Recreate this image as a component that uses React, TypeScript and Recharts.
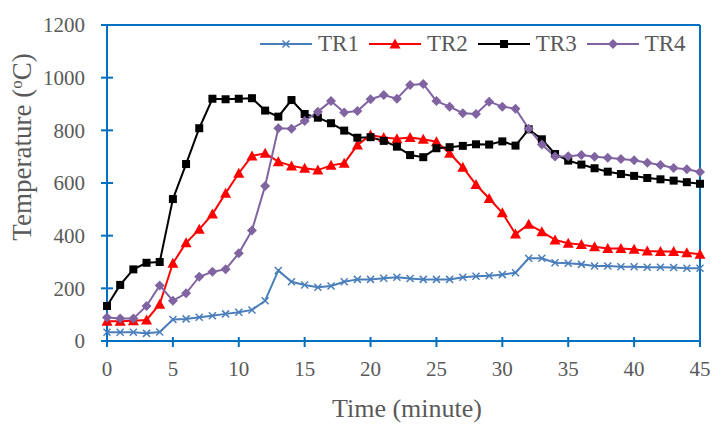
import { LineChart, Line, XAxis, YAxis, ReferenceLine, Legend } from 'recharts';

const AXIS_BLUE = '#0070C0';
const TEXT_GREY = '#595959';
const FONT = '"Liberation Serif", "Times New Roman", serif';

// time in minutes
const minutes = [
  0, 1, 2, 3, 4, 5, 6, 7, 8, 9, 10, 11, 12, 13, 14, 15, 16, 17, 18, 19, 20, 21, 22,
  23, 24, 25, 26, 27, 28, 29, 30, 31, 32, 33, 34, 35, 36, 37, 38, 39, 40, 41, 42, 43, 44, 45,
];

const tr1 = [
  33, 33, 33, 29, 34, 82, 84, 90, 96, 103, 109, 118, 153, 268, 225, 213, 204, 209, 225, 234, 234, 238, 242,
  237, 234, 234, 234, 242, 246, 248, 252, 259, 314, 314, 297, 295, 291, 285, 285, 282, 282, 280, 280, 279, 276, 276,
];
const tr2 = [
  75, 75, 77, 80, 140, 295, 373, 424, 482, 561, 637, 703, 713, 681, 665, 656, 649, 667, 675, 744, 782, 773, 768,
  773, 766, 757, 713, 660, 594, 541, 487, 406, 443, 415, 384, 371, 366, 358, 351, 351, 348, 342, 340, 340, 335, 329,
];
const tr3 = [
  133, 213, 272, 297, 300, 539, 672, 808, 920, 918, 920, 922, 875, 852, 915, 862, 848, 827, 799, 772, 774, 760, 738,
  706, 698, 732, 736, 741, 747, 746, 758, 742, 804, 766, 710, 685, 670, 656, 643, 634, 627, 619, 614, 609, 603, 597,
];
const tr4 = [
  89, 85, 85, 133, 211, 153, 181, 244, 263, 272, 333, 420, 589, 808, 806, 835, 871, 911, 868, 873, 918, 934, 920,
  972, 976, 911, 890, 865, 862, 909, 890, 882, 806, 746, 701, 702, 706, 700, 696, 691, 686, 677, 668, 657, 652, 642,
];

const xTicks = [0, 5, 10, 15, 20, 25, 30, 35, 40, 45];
const yTicks = [0, 200, 400, 600, 800, 1000, 1200];

const seriesStyle: Record<string, { color: string; shape: string }> = {
  TR1: { color: '#4A7EBB', shape: 'cross' },
  TR2: { color: '#FF0000', shape: 'triangle' },
  TR3: { color: '#000000', shape: 'square' },
  TR4: { color: '#8064A2', shape: 'diamond' },
};

const data = minutes.map((t, i) => ({
  t,
  TR1: tr1[i],
  TR2: tr2[i],
  TR3: tr3[i],
  TR4: tr4[i],
}));

const Marker = ({ shape, cx, cy, color }: any) => {
  if (cx == null || cy == null) return null;
  if (shape === 'cross') {
    const s = 3.5;
    return (
      <g stroke={color} strokeWidth={1.5}>
        <line x1={cx - s} y1={cy - s} x2={cx + s} y2={cy + s} />
        <line x1={cx - s} y1={cy + s} x2={cx + s} y2={cy - s} />
      </g>
    );
  }
  if (shape === 'triangle') {
    return <path d={`M${cx},${cy - 5.5} L${cx + 5.5},${cy + 4.5} L${cx - 5.5},${cy + 4.5} Z`} fill={color} />;
  }
  if (shape === 'square') {
    return <rect x={cx - 4} y={cy - 4} width={8} height={8} fill={color} />;
  }
  return <path d={`M${cx},${cy - 5} L${cx + 5},${cy} L${cx},${cy + 5} L${cx - 5},${cy} Z`} fill={color} />;
};

const XTick = (props: any) => {
  const { x, y, payload } = props;
  return (
    <g>
      <line x1={x} y1={y - 4} x2={x} y2={y + 6} stroke={AXIS_BLUE} strokeWidth={2} />
      <text x={x} y={y + 28} dy="0.35em" textAnchor="middle" fill={TEXT_GREY} fontSize={21} fontFamily={FONT}>
        {payload.value}
      </text>
    </g>
  );
};

const YTick = (props: any) => {
  const { x, y, payload } = props;
  return (
    <g>
      <line x1={x - 6} y1={y} x2={x + 6} y2={y} stroke={AXIS_BLUE} strokeWidth={2} />
      <text x={x - 22} y={y} dy="0.35em" textAnchor="end" fill={TEXT_GREY} fontSize={21} fontFamily={FONT}>
        {payload.value}
      </text>
    </g>
  );
};

const renderLegend = (props: any) => (
  <div style={{ display: 'flex', alignItems: 'center', fontFamily: FONT, fontSize: 23, color: TEXT_GREY, lineHeight: '24px' }}>
    {(props.payload || []).map((entry: any) => {
      const st = seriesStyle[entry.value];
      return (
        <div key={entry.value} style={{ display: 'flex', alignItems: 'center', marginRight: 10 }}>
          <svg width={52} height={24}>
            <line x1={0} y1={12} x2={52} y2={12} stroke={st.color} strokeWidth={2} />
            <Marker shape={st.shape} cx={26} cy={12} color={st.color} />
          </svg>
          <span style={{ marginLeft: 6 }}>{entry.value}</span>
        </div>
      );
    })}
  </div>
);

export default function App() {
  return (
    <div style={{ position: 'absolute', left: 0, top: 0, width: 713, height: 424, background: '#fff' }}>
      <LineChart width={713} height={424} data={data} margin={{ top: 25, right: 13, left: 0, bottom: 0 }}>
        <XAxis
          dataKey="t"
          type="number"
          domain={[0, 45]}
          ticks={xTicks}
          height={83}
          tickSize={0}
          tickMargin={0}
          tick={<XTick />}
          axisLine={{ stroke: AXIS_BLUE, strokeWidth: 2 }}
          label={{
            content: () => (
              <text x={407} y={417} textAnchor="middle" fill={TEXT_GREY} fontSize={26} fontFamily={FONT}>
                Time (minute)
              </text>
            ),
          }}
        />
        <YAxis
          type="number"
          domain={[0, 1200]}
          ticks={yTicks}
          width={107}
          tickSize={0}
          tickMargin={0}
          tick={<YTick />}
          axisLine={{ stroke: AXIS_BLUE, strokeWidth: 2 }}
          label={{
            content: () => (
              <text transform="translate(31,147) rotate(-90)" textAnchor="middle" fill={TEXT_GREY} fontSize={27} fontFamily={FONT}>
                Temperature (<tspan fontSize={17} dy={-9}>o</tspan>
                <tspan dy={9}>C)</tspan>
              </text>
            ),
          }}
        />
        <ReferenceLine y={1200} stroke={AXIS_BLUE} strokeWidth={2} />
        <ReferenceLine x={45} stroke={AXIS_BLUE} strokeWidth={2} />
        <Legend
          layout="horizontal"
          verticalAlign="middle"
          align="center"
          wrapperStyle={{ top: 32, left: 260, width: 'auto' }}
          content={renderLegend}
        />
        {(['TR1', 'TR2', 'TR3', 'TR4'] as const).map((name) => (
          <Line
            key={name}
            dataKey={name}
            name={name}
            stroke={seriesStyle[name].color}
            strokeWidth={2}
            isAnimationActive={false}
            dot={(p: any) => (
              <Marker key={`${name}-${p.index}`} shape={seriesStyle[name].shape} cx={p.cx} cy={p.cy} color={seriesStyle[name].color} />
            )}
            activeDot={false}
          />
        ))}
      </LineChart>
    </div>
  );
}
